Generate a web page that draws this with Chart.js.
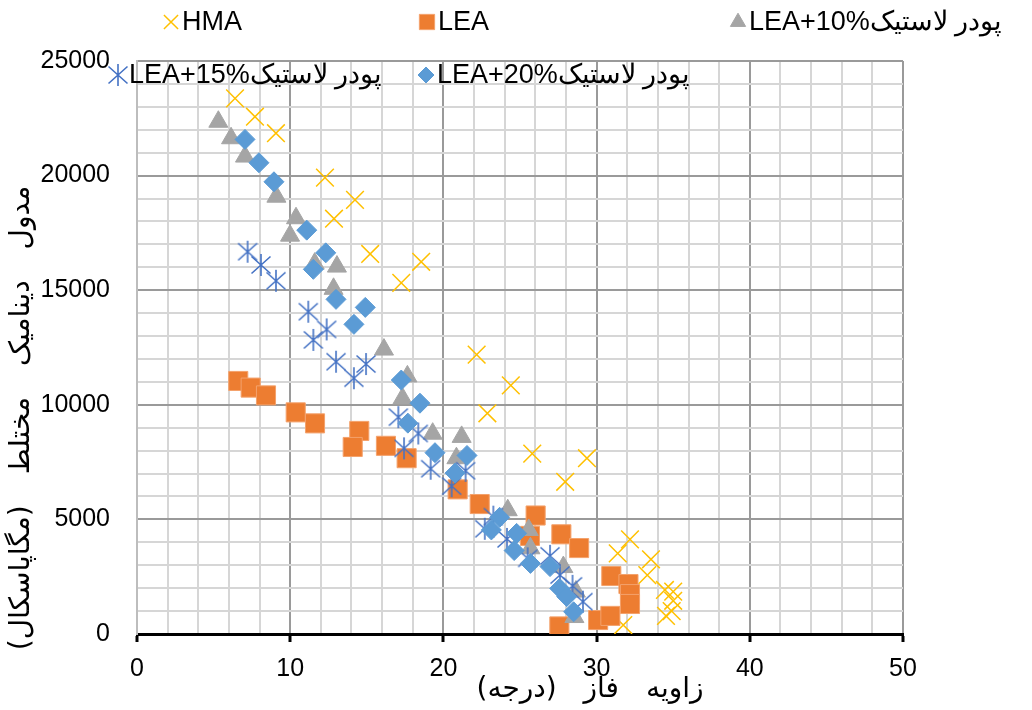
<!DOCTYPE html>
<html>
<head>
<meta charset="utf-8">
<script src="https://cdn.jsdelivr.net/npm/chart.js@4.4.1/dist/chart.umd.min.js"></script>
<style>
  html, body { margin: 0; padding: 0; background: #fff; }
</style>
</head>
<body>
<canvas id="chart" width="1032" height="710"></canvas>
<script>
// series names, shown in the legend
const seriesNames = ['HMA', 'LEA', 'LEA+10%پودر لاستیک', 'LEA+15%پودر لاستیک', 'LEA+20%پودر لاستیک'];

// phase angle (deg) / dynamic modulus (MPa)
const hmaX = [6.4, 7.7, 9.07, 12.27, 14.23, 12.86, 15.22, 17.25, 18.55, 22.17, 22.87, 24.4, 25.8, 27.95, 29.37, 32.18, 31.38, 33.55, 33.31, 34.46, 35.0, 35.0, 34.53, 34.9, 31.74];
const hmaY = [23370, 22570, 21850, 19910, 18940, 18120, 16580, 15320, 16240, 12190, 9630, 10850, 7870, 6640, 7670, 4130, 3520, 3260, 2570, 1920, 1850, 1450, 790, 1000, 390];

const leaX = [6.61, 7.42, 8.42, 10.36, 11.62, 14.51, 14.08, 16.25, 17.6, 20.93, 22.37, 26.02, 25.65, 27.7, 28.86, 30.96, 32.08, 32.18, 32.18, 30.1, 30.9, 27.57];
const leaY = [11040, 10750, 10410, 9670, 9190, 8860, 8160, 8210, 7670, 6310, 5670, 5170, 4280, 4350, 3750, 2530, 2180, 1740, 1310, 610, 790, 330];

const lea10X = [5.31, 6.14, 7.05, 9.1, 10.38, 9.99, 11.6, 13.05, 12.83, 16.12, 17.65, 17.33, 19.3, 21.19, 20.85, 24.2, 25.57, 25.68, 27.83, 28.65, 28.55];
const lea10Y = [22350, 21630, 20830, 19080, 18140, 17380, 16160, 16030, 15060, 12410, 11240, 10280, 8740, 8600, 7670, 5400, 4540, 3740, 2920, 1850, 740];

const lea15X = [7.22, 8.09, 9.07, 11.18, 12.38, 11.51, 12.99, 14.16, 14.95, 17.06, 18.36, 17.43, 19.17, 21.45, 20.54, 22.7, 23.26, 24.15, 25.5, 26.96, 27.61, 28.43, 29.11];
const lea15Y = [16680, 16100, 15410, 14060, 13290, 12830, 11880, 11160, 11780, 9460, 8750, 8100, 7210, 7120, 6450, 4590, 5120, 4150, 3300, 3410, 2570, 2100, 1410];

const lea20X = [7.05, 7.96, 8.94, 11.08, 12.32, 11.51, 12.99, 14.9, 14.16, 17.25, 18.47, 17.68, 19.45, 21.54, 20.76, 23.67, 23.13, 24.78, 24.62, 25.68, 26.96, 27.59, 28.05, 28.5];
const lea20Y = [21580, 20560, 19730, 17620, 16630, 15910, 14600, 14250, 13510, 11080, 10070, 9200, 7910, 7790, 7020, 5090, 4540, 4390, 3640, 3080, 2940, 1990, 1630, 970];

const xTickLabels = [0, 10, 20, 30, 40, 50];
const yTickLabels = [0, 5000, 10000, 15000, 20000, 25000];

const xTitle = 'زاویه فاز (درجه)';
const yTitle = 'مدول دینامیک مختلط (مگاپاسکال)';

const FONT = '"Liberation Sans Narrow", "Liberation Sans", Arial, sans-serif';
const FA_FONT = '"DejaVu Sans", sans-serif';

function pairs(xs, ys) {
  return xs.map((x, i) => ({ x: x, y: ys[i] }));
}

// Excel style star marker: vertical bar plus an X
function makeStar(color) {
  const c = document.createElement('canvas');
  c.width = 22;
  c.height = 24;
  const g = c.getContext('2d');
  g.strokeStyle = color;
  g.lineWidth = 1.6;
  g.beginPath();
  g.moveTo(11, 1); g.lineTo(11, 23);
  g.moveTo(1.5, 3.5); g.lineTo(20.5, 20.5);
  g.moveTo(20.5, 3.5); g.lineTo(1.5, 20.5);
  g.stroke();
  return c;
}
const starMarker = makeStar('#4472C4');

const datasets = [
  { label: seriesNames[0], data: pairs(hmaX, hmaY), pointStyle: 'crossRot', pointRadius: 12.5,
    borderColor: '#FFC000', backgroundColor: '#FFC000', pointBorderWidth: 1.5 },
  { label: seriesNames[1], data: pairs(leaX, leaY), pointStyle: 'rect', pointRadius: 13.5,
    borderColor: '#F4A26C', backgroundColor: '#ED7D31', pointBorderWidth: 1 },
  { label: seriesNames[2], data: pairs(lea10X, lea10Y), pointStyle: 'triangle', pointRadius: 11,
    borderColor: '#A5A5A5', backgroundColor: '#A5A5A5', pointBorderWidth: 1 },
  { label: seriesNames[3], data: pairs(lea15X, lea15Y), pointStyle: starMarker, pointRadius: 11,
    borderColor: '#4472C4', backgroundColor: '#4472C4', pointBorderWidth: 1.5 },
  { label: seriesNames[4], data: pairs(lea20X, lea20Y), pointStyle: 'rectRot', pointRadius: 10,
    borderColor: '#5B9BD5', backgroundColor: '#5B9BD5', pointBorderWidth: 1 }
];
// later series sit on top, like in Excel
datasets.forEach((d, i) => { d.order = datasets.length - i; d.showLine = false; });

// legend spots (two rows, second one overlaps the plot top)
const legendSpots = [[171, 22], [427, 22], [738, 22], [118, 75], [426, 75]];

const overlayPlugin = {
  id: 'overlay',
  afterDraw(chart) {
    const ctx = chart.ctx;
    ctx.save();
    // legend
    chart.data.datasets.forEach((ds, i) => {
      const [lx, ly] = legendSpots[i];
      ctx.fillStyle = ds.backgroundColor;
      ctx.strokeStyle = ds.borderColor;
      ctx.lineWidth = ds.pointBorderWidth;
      Chart.helpers.drawPoint(ctx, { pointStyle: ds.pointStyle, radius: ds.pointRadius * 0.8, borderWidth: ds.pointBorderWidth, rotation: 0 }, lx, ly);
      ctx.fillStyle = '#000';
      ctx.font = '27px ' + FONT;
      ctx.textAlign = 'left';
      ctx.textBaseline = 'middle';
      ctx.fillText(ds.label, lx + 11, ly + 1);
    });

    // axis titles
    const area = chart.chartArea;
    ctx.fillStyle = '#000';
    ctx.font = '28px ' + FA_FONT;
    ctx.textAlign = 'center';
    ctx.textBaseline = 'middle';
    ctx.letterSpacing = '18px';
    ctx.fillText(xTitle, (area.left + area.right) / 2 + 70, 690);

    ctx.translate(22, 418);
    ctx.rotate(-Math.PI / 2);
    ctx.letterSpacing = '22px';
    ctx.fillText(yTitle, 0, 0);
    ctx.restore();
  }
};

const majorX = v => v % 10 === 0;
const majorY = v => v % 5000 === 0;

new Chart(document.getElementById('chart'), {
  type: 'scatter',
  data: { datasets: datasets },
  options: {
    responsive: false,
    animation: false,
    events: [],
    layout: { padding: { top: 61, right: 129, left: 0, bottom: 0 } },
    plugins: { legend: { display: false }, tooltip: { enabled: false } },
    scales: {
      x: {
        type: 'linear',
        min: xTickLabels[0],
        max: xTickLabels[xTickLabels.length - 1],
        afterFit(scale) { scale.height = 76; },
        ticks: {
          stepSize: 2,
          autoSkip: false,
          maxRotation: 0,
          padding: 12,
          color: '#000',
          font: { family: FONT, size: 25 },
          callback: v => (xTickLabels.includes(v) ? String(v) : '')
        },
        grid: {
          color: c => (majorX(c.tick.value) ? '#9a9a9a' : '#d6d6d6'),
          lineWidth: 2,
          drawTicks: true,
          tickLength: 8,
          tickWidth: 3,
          tickColor: c => (majorX(c.tick.value) ? '#000' : 'rgba(0,0,0,0)')
        },
        border: { color: '#000', width: 3 }
      },
      y: {
        type: 'linear',
        min: yTickLabels[0],
        max: yTickLabels[yTickLabels.length - 1],
        afterFit(scale) { scale.width = 137; },
        ticks: {
          stepSize: 1000,
          autoSkip: false,
          padding: 27,
          color: '#000',
          font: { family: FONT, size: 25 },
          callback: v => (yTickLabels.includes(v) ? String(v) : '')
        },
        grid: {
          color: c => (majorY(c.tick.value) ? '#9a9a9a' : '#d6d6d6'),
          lineWidth: 2,
          drawTicks: false
        },
        border: { color: '#bdbdbd', width: 2 }
      }
    }
  },
  plugins: [overlayPlugin]
});
</script>
</body>
</html>
